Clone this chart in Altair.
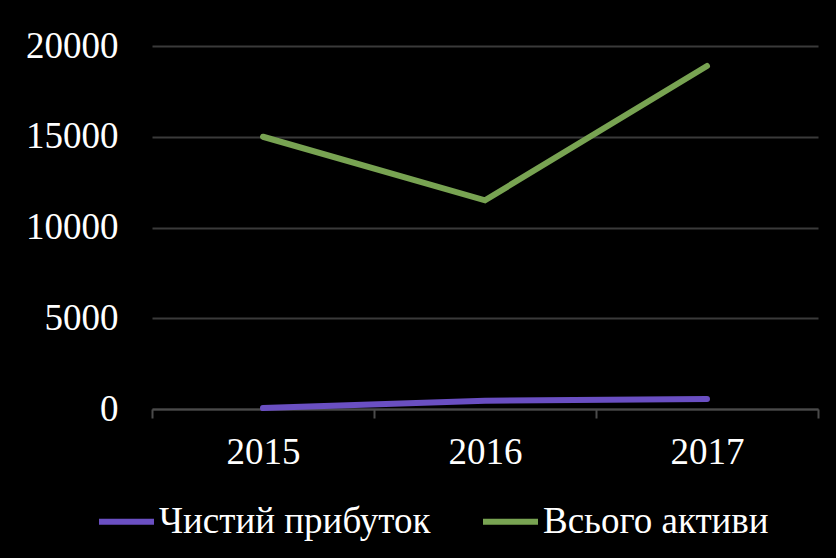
import altair as alt
import pandas as pd

years = ["2015", "2016", "2017"]
profit = [50, 460, 550]
assets = [15000, 11500, 18900]
series_names = ["Чистий прибуток", "Всього активи"]
series_colors = ["#6a4fc2", "#78a352"]

rows = []
for y, v in zip(years, profit):
    rows.append({"year": y, "value": v, "series": series_names[0]})
for y, v in zip(years, assets):
    rows.append({"year": y, "value": v, "series": series_names[1]})
df = pd.DataFrame(rows)

font = "Liberation Serif"

chart = alt.Chart(df).mark_line(strokeWidth=6, strokeCap="round").encode(
    x=alt.X("year:O", title=None, bandPosition=0.5,
            scale=alt.Scale(type="band", paddingInner=0, paddingOuter=0),
            axis=alt.Axis(labelAngle=0, tickBand="extent", grid=False,
                          domainColor="#4a4a4a", domainWidth=2,
                          tickColor="#4a4a4a", tickWidth=2, tickSize=9,
                          labelFont=font, labelFontSize=37, labelColor="white",
                          labelPadding=16)),
    y=alt.Y("value:Q", title=None,
            scale=alt.Scale(domain=[0, 20000]),
            axis=alt.Axis(values=[0, 5000, 10000, 15000, 20000], domain=False,
                          format="d",
                          ticks=False, gridColor="#3a3a3a", gridWidth=2,
                          labelFont=font, labelFontSize=37, labelColor="white",
                          labelPadding=34)),
    color=alt.Color("series:N", title=None,
                    scale=alt.Scale(domain=series_names, range=series_colors),
                    sort=series_names,
                    legend=alt.Legend(orient="none", direction="horizontal",
                                      legendX=-56, legendY=445,
                                      symbolType="stroke", symbolSize=3025,
                                      symbolStrokeWidth=6, labelOffset=2,
                                      columnPadding=40,
                                      labelFont=font, labelFontSize=37,
                                      labelColor="white", labelLimit=400)),
).properties(
    width=666, height=363,
    background="black",
    padding={"left": 152, "top": 46, "right": 18, "bottom": 149},
    autosize=alt.AutoSizeParams(type="none"),
).configure_view(stroke=None)

chart.save("out.html", embed_options={"renderer": "svg", "actions": False})
